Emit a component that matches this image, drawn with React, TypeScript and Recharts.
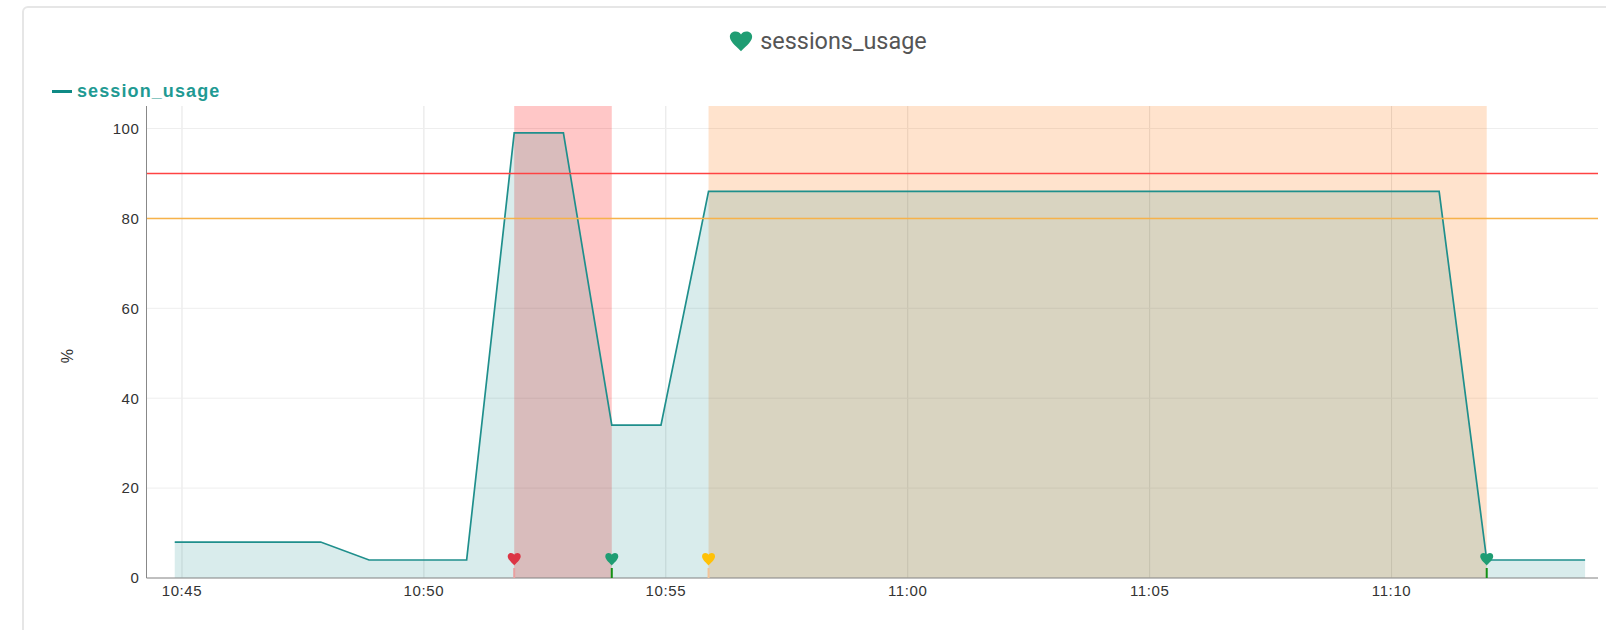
import {
  AreaChart,
  Area,
  XAxis,
  YAxis,
  CartesianGrid,
  Legend,
  ReferenceArea,
  ReferenceDot,
  ReferenceLine,
} from "recharts";

const sampleTimes = [
  "10:44:51", "10:45:52", "10:46:52", "10:47:52", "10:48:52", "10:49:52",
  "10:50:53", "10:51:52", "10:52:53", "10:53:53", "10:54:54", "10:55:53",
  "10:56:53", "10:57:54", "10:58:54", "10:59:55", "11:00:55", "11:01:55",
  "11:02:56", "11:03:56", "11:04:57", "11:05:57", "11:06:58", "11:07:58",
  "11:08:58", "11:09:59", "11:10:59", "11:11:58", "11:12:59", "11:14:00",
];
const sessionUsage = [
  8, 8, 8, 8, 4, 4, 4, 99, 99, 34, 34, 86, 86, 86, 86, 86, 86, 86, 86, 86, 86,
  86, 86, 86, 86, 86, 86, 4, 4, 4,
];
const timeTicks = ["10:45:00", "10:50:00", "10:55:00", "11:00:00", "11:05:00", "11:10:00"];
const valueTicks = [0, 20, 40, 60, 80, 100];
const timeRange = ["10:44:16", "11:14:16"];

const thresholds = [
  { value: 90, color: "#ff4343" },
  { value: 80, color: "#f7b24a" },
];
const alertBands = [
  { from: "10:51:52", to: "10:53:53", color: "#ff0000", opacity: 0.22 },
  { from: "10:55:53", to: "11:11:58", color: "#ff7f1a", opacity: 0.22 },
];
const healthMarks = [
  { at: "10:51:52", color: "#dc3545", stem: "#e9a0a0" },
  { at: "10:53:53", color: "#1f9d73", stem: "#149014" },
  { at: "10:55:53", color: "#ffc107", stem: "#f2c49a" },
  { at: "11:11:58", color: "#1f9d73", stem: "#149014" },
];

const toSeconds = (t: string) => {
  const [h, m, s] = t.split(":").map(Number);
  return h * 3600 + m * 60 + s;
};
const toLabel = (v: number) => {
  const h = Math.floor(v / 3600);
  const m = Math.floor((v % 3600) / 60);
  return `${h}:${String(m).padStart(2, "0")}`;
};

const data = sampleTimes.map((t, i) => ({ time: toSeconds(t), usage: sessionUsage[i] }));

const HEART =
  "M0 6.5 C-1 4.8 -6.5 0.8 -6.5 -2.6 C-6.5 -5 -4.8 -6 -3.2 -6 C-1.8 -6 -0.6 -5.3 0 -4.2 C0.6 -5.3 1.8 -6 3.2 -6 C4.8 -6 6.5 -5 6.5 -2.6 C6.5 0.8 1 4.8 0 6.5 Z";

const HealthMark = ({ cx, cy, color, stem }: any) => (
  <g>
    <line x1={cx} x2={cx} y1={cy - 10} y2={cy} stroke={stem} strokeWidth={2} />
    <path d={HEART} transform={`translate(${cx},${cy - 19})`} fill={color} />
  </g>
);

const SeriesLegend = () => (
  <div style={{ display: "flex", alignItems: "center", fontFamily: "Liberation Sans", fontWeight: 700, fontSize: 18, letterSpacing: 1.1, color: "#1f9a93" }}>
    <span style={{ width: 20, height: 3, background: "#0f8a85", marginRight: 5 }} />
    session_usage
  </div>
);

const PercentLabel = ({ viewBox }: any) => {
  const x = viewBox.x + 69;
  const y = viewBox.y + viewBox.height / 2 + 14;
  return (
    <text x={x} y={y} transform={`rotate(-90 ${x} ${y})`} textAnchor="middle" dominantBaseline="middle" fill="#333" fontSize={16} fontFamily="Liberation Sans">
      %
    </text>
  );
};

const tickStyle = { fill: "#333", fontSize: 15, fontFamily: "Liberation Sans", letterSpacing: 0.6 };

export default function App() {
  return (
    <div style={{ position: "absolute", left: 0, top: 0, width: 1606, height: 630, overflow: "hidden", background: "#fff" }}>
      <div style={{ position: "absolute", left: 22, top: 6, width: 1700, height: 800, border: "2px solid #e6e6e6", borderRadius: 6 }} />
      <div style={{ position: "absolute", left: 25, top: 25, width: 1606, display: "flex", justifyContent: "center", alignItems: "center", fontFamily: "Roboto", fontSize: 23.4, color: "#555", height: 32 }}>
        <svg width={24} height={22} viewBox="-7 -7 14 14" preserveAspectRatio="none" style={{ marginRight: 7 }}>
          <path d={HEART} fill="#1f9d73" />
        </svg>
        sessions_usage
      </div>
      <AreaChart
        width={1606}
        height={630}
        data={data}
        margin={{ top: 106, right: 8, bottom: 0, left: 0 }}
        style={{ position: "absolute", left: 0, top: 0 }}
      >
        <CartesianGrid stroke="#e4e4e4" horizontal={false} syncWithTicks />
        <CartesianGrid stroke="#eeeeee" vertical={false} syncWithTicks />
        <XAxis
          dataKey="time"
          type="number"
          scale="linear"
          domain={timeRange.map(toSeconds)}
          ticks={timeTicks.map(toSeconds)}
          tickFormatter={toLabel}
          tick={tickStyle}
          tickLine={false}
          tickSize={0}
          axisLine={{ stroke: "#888" }}
          tickMargin={7}
          height={52}
          allowDataOverflow
        />
        <YAxis
          type="number"
          domain={[0, 105]}
          ticks={valueTicks}
          tick={tickStyle}
          tickLine={false}
          tickSize={0}
          axisLine={{ stroke: "#888" }}
          tickMargin={7}
          width={146.5}
          label={<PercentLabel />}
        />
        <Legend
          layout="horizontal"
          verticalAlign="middle"
          align="center"
          wrapperStyle={{ position: "absolute", left: 52, top: 81, width: 240 }}
          content={SeriesLegend}
        />
        {alertBands.map((b) => (
          <ReferenceArea
            key={b.from}
            x1={toSeconds(b.from)}
            x2={toSeconds(b.to)}
            fill={b.color}
            fillOpacity={b.opacity}
            stroke="none"
            zIndex={50}
          />
        ))}
        <Area
          dataKey="usage"
          type="linear"
          stroke="#1f8f8c"
          strokeWidth={1.7}
          fill="#008080"
          fillOpacity={0.15}
          dot={false}
          activeDot={false}
          isAnimationActive={false}
        />
        {thresholds.map((l) => (
          <ReferenceLine key={l.value} y={l.value} stroke={l.color} strokeWidth={1.5} />
        ))}
        {healthMarks.map((m) => (
          <ReferenceDot
            key={m.at}
            x={toSeconds(m.at)}
            y={0}
            shape={(p: any) => <HealthMark {...p} color={m.color} stem={m.stem} />}
          />
        ))}
      </AreaChart>
    </div>
  );
}
